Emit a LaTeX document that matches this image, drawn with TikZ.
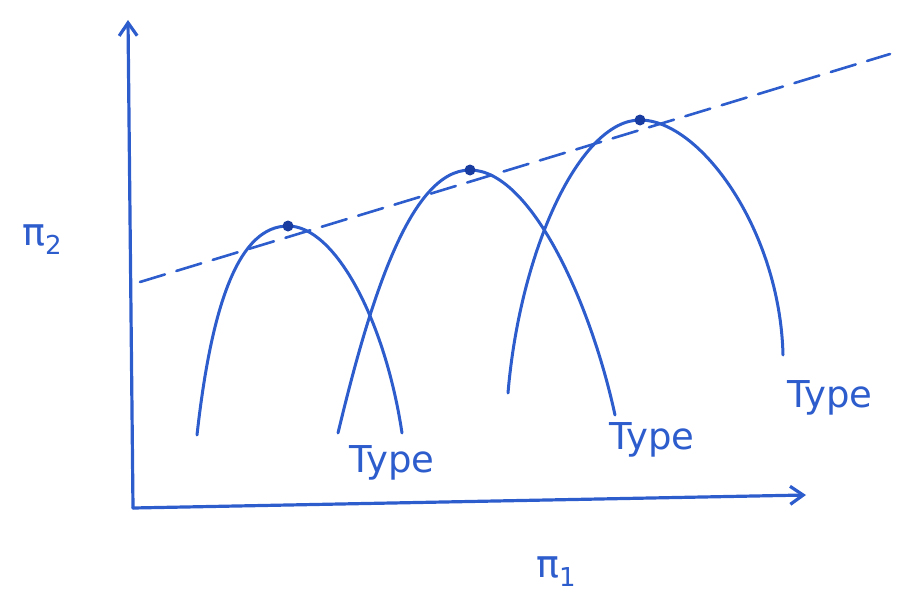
\documentclass[tikz,border=0pt]{standalone}
\usepackage{fontspec}
\setsansfont{DejaVu Sans}
\usetikzlibrary{arrows.meta}
\definecolor{pen}{RGB}{45,92,205}
\definecolor{dot}{RGB}{25,60,160}
\begin{document}
\begin{tikzpicture}[x=1pt,y=-1pt,
  ink/.style={draw=pen,line width=3.2pt,line cap=round},
  axis/.style={ink,-{Straight Barb[length=13pt,width=18pt,line width=3.2pt]}},
  curve/.style={ink,line width=3pt},
  peak/.style={circle,fill=dot,inner sep=0pt,minimum size=11pt},
  lbl/.style={text=pen,font=\sffamily\fontsize{37}{40}\selectfont,inner sep=0pt},
  sym/.style={text=pen,font=\sffamily\fontsize{38}{40}\selectfont,inner sep=0pt}]
\useasboundingbox (0,0) rectangle (915,594);
% axes
\coordinate (O) at (133,508);
\coordinate (ytop) at (128,20);
\coordinate (xend) at (806,495);
\draw[axis] (O) -- (ytop);
\draw[axis] (O) -- (xend);
% dashed envelope
\coordinate (d1) at (140,282);
\coordinate (d2) at (890,54);
\draw[ink,line width=2.6pt,dash pattern=on 26pt off 12pt] (d1) -- (d2);
% peak points
\coordinate (p1) at (288,226);
\coordinate (p2) at (470,170);
\coordinate (p3) at (640,120);
% curves
\coordinate (a1) at (197,435); \coordinate (b1) at (402,433);
\coordinate (a2) at (338,433); \coordinate (b2) at (615,415);
\coordinate (a3) at (508,393); \coordinate (b3) at (783,355);
\draw[curve] (a1) .. controls (212,300) and (240,226) .. (p1)
  .. controls (335,226) and (385,320) .. (b1);
\draw[curve] (a2) .. controls (370,300) and (410,170) .. (p2)
  .. controls (530,170) and (590,300) .. (b2);
\draw[curve] (a3) .. controls (520,250) and (580,120) .. (p3)
  .. controls (700,120) and (780,230) .. (b3);
% peak dots
\node[peak] (q1) at (p1) {};
\node[peak] (q2) at (p2) {};
\node[peak] (q3) at (p3) {};
% labels
\node[lbl] (t1) at (392,463) {Type};
\node[lbl] (t2) at (652,440) {Type};
\node[lbl] (t3) at (830,398) {Type};
\node[sym] (pi2) at (42,240) {π\raisebox{-9pt}{\fontsize{26}{26}\selectfont 2}};
\node[sym] (pi1) at (556,572) {π\raisebox{-9pt}{\fontsize{26}{26}\selectfont 1}};
\end{tikzpicture}
\end{document}
